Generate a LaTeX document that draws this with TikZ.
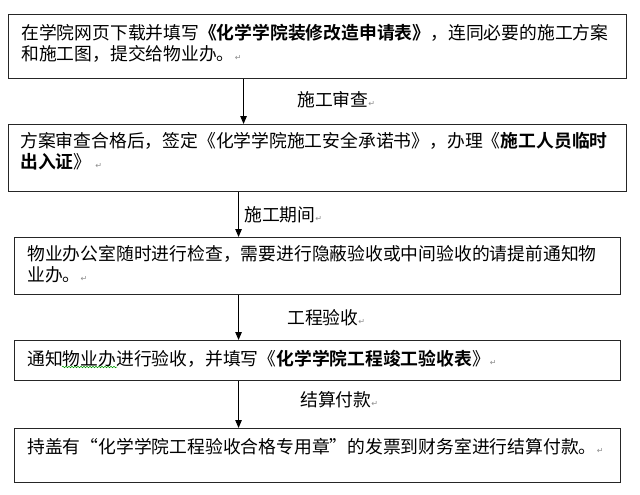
\documentclass[tikz,border=0pt]{standalone}
\usepackage{fontspec}
\setmainfont{Noto Sans CJK SC}[BoldFont={Noto Sans CJK SC Bold}]
\newfontfamily\markfont{DejaVu Sans}
\usetikzlibrary{arrows.meta,positioning,decorations.pathmorphing}
\newcommand{\bodyfont}{\fontsize{17.8}{21}\selectfont}
\newcommand{\parmark}{{\markfont\fontsize{8}{8}\selectfont\color{black!45}↵}}

\begin{document}
\begin{tikzpicture}[x=1pt, y=-1pt,
  stepbox/.style={draw=black!85, line width=1.1pt, inner sep=0pt, anchor=north west},
  boxtext/.style={inner sep=0pt, anchor=north west, align=left, font=\bodyfont},
  steplabel/.style={inner sep=0pt, anchor=west, font=\bodyfont},
  flow/.style={-{Triangle[width=6.5pt,length=8pt]}, line width=0.9pt}
]
  \useasboundingbox (0,0) rectangle (640,495);

  % Boxes
  \node[stepbox, minimum width=618pt, minimum height=64pt] (b1) at (8,14) {};
  \node[stepbox, minimum width=618pt, minimum height=67pt] (b2) at (8,124) {};
  \node[stepbox, minimum width=606pt, minimum height=57pt] (b3) at (14,237) {};
  \node[stepbox, minimum width=606pt, minimum height=40pt] (b4) at (14,340) {};
  \node[stepbox, minimum width=606pt, minimum height=54pt] (b5) at (14,428) {};

  % Texts in the boxes
  \node[boxtext] (t1) at (21,23.5) {在学院网页下载并填写\textbf{《化学学院装修改造申请表》}，连同必要的施工方案\\和施工图，提交给物业办。\parmark};
  \node[boxtext] (t2) at (20,132.5) {方案审查合格后，签定《化学学院施工安全承诺书》，办理《\textbf{施工人员临时}\\\textbf{出入证}》\ \parmark};
  \node[boxtext] (t3) at (27,245.5) {物业办公室随时进行检查，需要进行隐蔽验收或中间验收的请提前通知物\\业办。\parmark};
  \node[boxtext] (t4) at (27,349.5) {通知物业办进行验收，并填写《\textbf{化学学院工程竣工验收表}》\parmark};
  \node[boxtext] (t5) at (27,438.5) {持盖有“化学学院工程验收合格专用章”的发票到财务室进行结算付款。\parmark};

  % Arrows
  \draw[flow] ([xshift=-74pt]b1.south) -- ([xshift=-74pt]b2.north);
  \draw[flow] ([xshift=-79pt]b2.south) -- ([xshift=-79pt]b3.north);
  \draw[flow] ([xshift=-79pt]b3.south) -- ([xshift=-79pt]b4.north);
  \draw[flow] ([xshift=-79pt]b4.south) -- ([xshift=-79pt]b5.north);

  % Labels on the arrows
  \node[steplabel] (l1) at (297,100) {施工审查\parmark};
  \node[steplabel] (l2) at (244,215) {施工期间\parmark};
  \node[steplabel] (l3) at (287,318) {工程验收\parmark};
  \node[steplabel] (l4) at (300,400) {结算付款\parmark};

  % spell-check squiggle
  \draw[green!60!black, line width=0.5pt, decorate, decoration={snake, amplitude=0.8pt, segment length=3pt}] (62,367) -- (117,367);
\end{tikzpicture}
\end{document}
